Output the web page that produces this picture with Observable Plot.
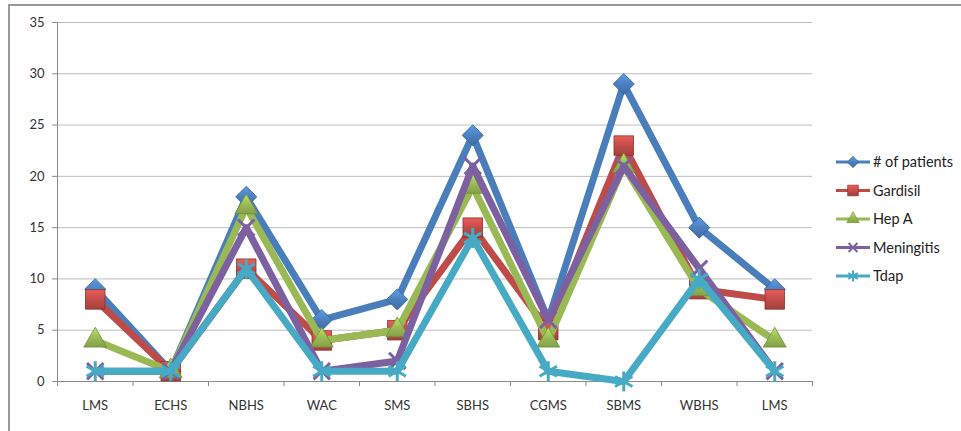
<!DOCTYPE html>
<html>
<head>
<meta charset="utf-8">
<script src="https://cdn.jsdelivr.net/npm/d3@7"></script>
<script src="https://cdn.jsdelivr.net/npm/@observablehq/plot@0.6"></script>
<style>
  html, body { margin: 0; padding: 0; background: #fff; }
  #wrap { position: relative; width: 961px; height: 431px; overflow: hidden; }
  #frame { position: absolute; left: 8px; top: 4px; width: 1000px; height: 500px; border: 2px solid #999; box-sizing: border-box; pointer-events: none; }
  svg { font-family: Lato, "Open Sans", sans-serif; }
</style>
</head>
<body>
<div id="wrap"><div id="frame"></div></div>
<script>
const categories = ["LMS","ECHS","NBHS","WAC","SMS","SBHS","CGMS","SBMS","WBHS","LMS"];
const patients   = [9, 1, 18, 6, 8, 24, 6, 29, 15, 9];
const gardisil   = [8, 1, 11, 4, 5, 15, 5, 23, 9, 8];
const hepA       = [4, 1, 17, 4, 5, 19, 4, 21, 9, 4];
const meningitis = [1, 1, 15, 1, 2, 21, 6, 21, 11, 1];
const tdap       = [1, 1, 11, 1, 1, 14, 1, 0, 10, 1];
const seriesNames = ["# of patients", "Gardisil", "Hep A", "Meningitis", "Tdap"];
const yTicks = [0, 5, 10, 15, 20, 25, 30, 35];

const seriesValues = [patients, gardisil, hepA, meningitis, tdap];
const colors  = ["#4a7ebb", "#be4b48", "#98b954", "#7d60a0", "#46aac5"];
const dark    = ["#2f5f99", "#8e2f2d", "#6f8f33", "#5a4180", "#2f8aa6"];
const symbols = ["diamond2", "square", "triangle", "times", "asterisk"];
const radii   = [9.5, 11, 8.5, 7.5, 9.5];
const filled  = [true, true, true, false, false];

const series = seriesNames.map((name, s) =>
  seriesValues[s].map((v, i) => ({name, i, v}))
);

const marks = [
  Plot.gridY(yTicks, {stroke: "#bdbdbd", strokeOpacity: 1, strokeWidth: 1}),
  Plot.axisY(yTicks, {tickSize: 5, tickPadding: 8, stroke: "#8a8a8a", fontSize: 13, color: "#333", label: null}),
  Plot.axisX(d3.range(categories.length), {tickSize: 0, tickPadding: 19, fontSize: 13, tickFormat: i => categories[i], label: null}),
  Plot.axisX(d3.range(categories.length + 1).map(k => k - 0.5), {tickSize: 5, tickFormat: () => "", stroke: "#8a8a8a", label: null}),
  Plot.ruleX([-0.5], {stroke: "#8a8a8a"}),
  Plot.ruleY([0], {stroke: "#8a8a8a"})
];

series.forEach((data, s) => {
  marks.push(Plot.line(data, {x: "i", y: "v", stroke: colors[s], strokeWidth: 7, strokeLinejoin: "round", strokeLinecap: "round"}));
  if (filled[s]) {
    marks.push(Plot.dot(data, {x: "i", y: "v", symbol: symbols[s], r: radii[s], fill: `url(#grad${s})`, stroke: dark[s], strokeWidth: 0.8}));
  } else {
    marks.push(Plot.dot(data, {x: "i", y: "v", symbol: symbols[s], r: radii[s], fill: "none", stroke: colors[s], strokeWidth: 3}));
  }
});

const chart = Plot.plot({
  width: 961,
  height: 431,
  marginLeft: 57,
  marginRight: 149,
  marginTop: 22,
  marginBottom: 50,
  style: {background: "transparent", color: "#333", fontSize: "13px", fontFamily: "Lato, 'Open Sans', sans-serif"},
  x: {type: "linear", domain: [-0.5, categories.length - 0.5], axis: null},
  y: {domain: [0, 35], axis: null},
  marks
});
chart.style.position = "absolute";
chart.style.left = "0px";
chart.style.top = "0px";

const svg = d3.select(chart);
const defs = svg.insert("defs", ":first-child");
colors.forEach((c, s) => {
  const g = defs.append("linearGradient").attr("id", `grad${s}`).attr("x1", "0").attr("y1", "0").attr("x2", "0").attr("y2", "1");
  g.append("stop").attr("offset", "0%").attr("stop-color", d3.color(c).brighter(0.6));
  g.append("stop").attr("offset", "55%").attr("stop-color", c);
  g.append("stop").attr("offset", "100%").attr("stop-color", d3.color(c).darker(0.4));
});

// Legend
const symMap = {diamond2: d3.symbolDiamond2, square: d3.symbolSquare, triangle: d3.symbolTriangle, times: d3.symbolTimes, asterisk: d3.symbolAsterisk};
const legend = svg.append("g").attr("transform", "translate(836,162)").attr("text-anchor", "start");
seriesNames.forEach((name, s) => {
  const row = legend.append("g").attr("transform", `translate(0,${s * 28.5})`);
  row.append("line").attr("x1", 0).attr("x2", 34).attr("y1", 0).attr("y2", 0)
    .attr("stroke", colors[s]).attr("stroke-width", 3);
  const size = Math.PI * Math.pow(radii[s] * 0.55, 2);
  const p = row.append("path").attr("d", d3.symbol(symMap[symbols[s]], size)()).attr("transform", "translate(17,0)");
  if (filled[s]) p.attr("fill", `url(#grad${s})`).attr("stroke", dark[s]).attr("stroke-width", 0.6);
  else p.attr("fill", "none").attr("stroke", colors[s]).attr("stroke-width", 2);
  row.append("text").attr("x", 37).attr("y", 0).attr("dy", "0.35em")
    .attr("text-anchor", "start").attr("fill", "#222").attr("font-size", 14.5).text(name);
});

document.getElementById("wrap").appendChild(chart);
</script>
</body>
</html>
